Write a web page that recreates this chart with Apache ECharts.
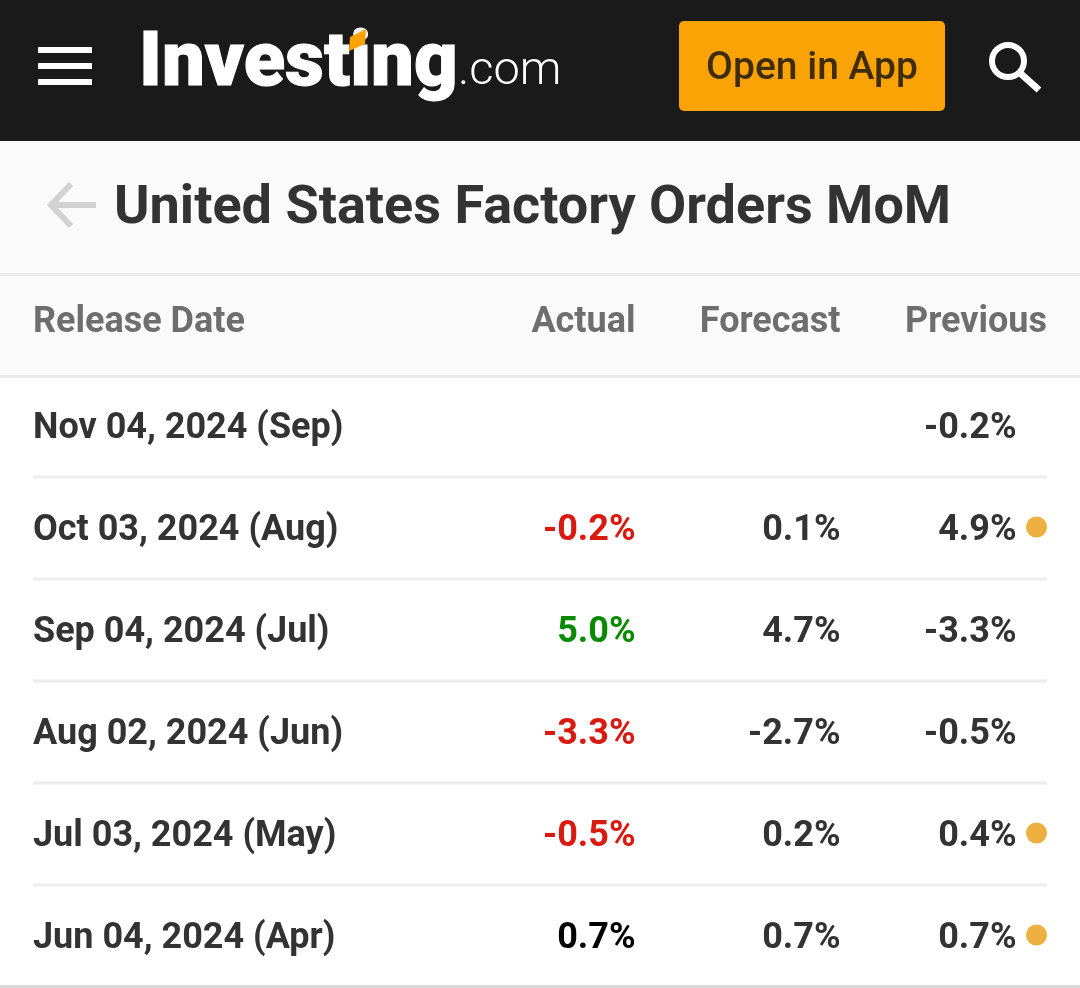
<!DOCTYPE html>
<html>
<head>
<meta charset="utf-8">
<style>
  html, body { margin: 0; padding: 0; background: #fff; }
  #chart { width: 1080px; height: 988px; }
</style>
<script src="https://cdn.jsdelivr.net/npm/echarts@6/dist/echarts.min.js"></script>
</head>
<body>
<div id="chart"></div>
<script>
const title = "United States Factory Orders MoM";
const columns = ["Release Date", "Actual", "Forecast", "Previous"];
const releases = [
  "Nov 04, 2024 (Sep)",
  "Oct 03, 2024 (Aug)",
  "Sep 04, 2024 (Jul)",
  "Aug 02, 2024 (Jun)",
  "Jul 03, 2024 (May)",
  "Jun 04, 2024 (Apr)",
];
const actual = [null, -0.2, 5.0, -3.3, -0.5, 0.7];
const forecast = [null, 0.1, 4.7, -2.7, 0.2, 0.7];
const previous = [-0.2, 4.9, -3.3, -0.5, 0.4, 0.7];
const revised = [false, true, false, false, true, true];

const FONT = "Roboto, sans-serif";
const CELL_FONT = "bold 36px " + FONT;
const TEXT = "#333333";
const GREY = "#6e6e6e";

function fmt(v) {
  return v === null ? "" : v.toFixed(1) + "%";
}

function actualColor(i) {
  if (actual[i] === null || forecast[i] === null) return "#111";
  if (actual[i] < forecast[i]) return "#d91a10";
  if (actual[i] > forecast[i]) return "#0a8a00";
  return "#000";
}

function cell(x, y, text, fill, align) {
  return {
    type: "text",
    style: { x: x, y: y + 3, text: text, font: CELL_FONT, fill: fill, textAlign: align, textVerticalAlign: "middle" },
  };
}

function headerCell(x, text, align) {
  return {
    type: "text",
    style: { x: x, y: 323, text: text, font: CELL_FONT, fill: GREY, textAlign: align, textVerticalAlign: "middle" },
  };
}

function renderRow(params, api) {
  const i = api.value(0);
  const y = api.coord([0, i])[1];
  const children = [
    cell(33, y, releases[i], TEXT, "left"),
    cell(635.5, y, fmt(actual[i]), actualColor(i), "right"),
    cell(840.5, y, fmt(forecast[i]), TEXT, "right"),
    cell(1016.5, y, fmt(previous[i]), TEXT, "right"),
  ];
  if (revised[i]) {
    children.push({ type: "circle", shape: { cx: 1036.5, cy: y - 1, r: 10.5 }, style: { fill: "#edb040" } });
  }
  if (i < releases.length - 1) {
    children.push({ type: "line", shape: { x1: 33, y1: y + 51, x2: 1047, y2: y + 51 }, style: { stroke: "#ececec", lineWidth: 3 } });
  }
  return { type: "group", children: children };
}

const chart = echarts.init(document.getElementById("chart"), null, { renderer: "canvas" });

chart.setOption({
  animation: false,
  backgroundColor: "#fff",
  grid: { left: 0, right: 0, top: 375, height: 612 },
  xAxis: { type: "value", min: 0, max: 1, show: false },
  yAxis: { type: "category", inverse: true, data: releases, show: false },
  graphic: [
    // top bar
    { type: "rect", shape: { x: 0, y: 0, width: 1080, height: 141 }, style: { fill: "#1a1a1a" } },
    { type: "rect", shape: { x: 38, y: 47, width: 54, height: 6 }, style: { fill: "#fff" } },
    { type: "rect", shape: { x: 38, y: 63, width: 54, height: 6 }, style: { fill: "#fff" } },
    { type: "rect", shape: { x: 38, y: 79, width: 54, height: 6 }, style: { fill: "#fff" } },
    { type: "text", style: { x: 139, y: 66, text: "Investing", font: "900 76px " + FONT, fill: "#fff", stroke: "#fff", lineWidth: 1, textVerticalAlign: "middle" } },
    { type: "polygon", shape: { points: [[350, 37], [366, 29], [365, 44], [349, 51]] }, style: { fill: "#f9a200" } },
    { type: "text", style: { x: 458, y: 72, text: ".com", font: "300 47px " + FONT, fill: "#fff", textVerticalAlign: "middle" } },
    { type: "rect", shape: { x: 679, y: 21, width: 266, height: 90, r: 5 }, style: { fill: "#f9a306" } },
    { type: "text", style: { x: 812, y: 69, text: "Open in App", font: "500 39px " + FONT, fill: "#3f2d0a", textAlign: "center", textVerticalAlign: "middle" } },
    { type: "circle", shape: { cx: 1008, cy: 61, r: 16 }, style: { fill: "none", stroke: "#fff", lineWidth: 6 } },
    { type: "line", shape: { x1: 1020, y1: 73, x2: 1039, y2: 90 }, style: { stroke: "#fff", lineWidth: 7 } },
    // title bar
    { type: "rect", shape: { x: 0, y: 141, width: 1080, height: 133 }, style: { fill: "#fafafa" } },
    { type: "polyline", shape: { points: [[71, 184], [51, 205], [71, 226]] }, style: { fill: "none", stroke: "#d2d2d2", lineWidth: 6 } },
    { type: "line", shape: { x1: 54, y1: 205, x2: 96, y2: 205 }, style: { stroke: "#d2d2d2", lineWidth: 6 } },
    { type: "text", style: { x: 114, y: 209, text: title, font: "bold 54px " + FONT, fill: TEXT, textVerticalAlign: "middle" } },
    { type: "rect", shape: { x: 0, y: 273, width: 1080, height: 3 }, style: { fill: "#ebebeb" } },
    // column header
    { type: "rect", shape: { x: 0, y: 276, width: 1080, height: 100 }, style: { fill: "#fafafa" } },
    { type: "rect", shape: { x: 0, y: 375, width: 1080, height: 3 }, style: { fill: "#ebebeb" } },
    headerCell(33, columns[0], "left"),
    headerCell(635.5, columns[1], "right"),
    headerCell(840.5, columns[2], "right"),
    headerCell(1047, columns[3], "right"),
    // bottom edge
    { type: "rect", shape: { x: 0, y: 985, width: 1080, height: 3 }, style: { fill: "#d9d9d9" } },
  ],
  series: [
    {
      type: "custom",
      coordinateSystem: "cartesian2d",
      encode: { x: 1, y: 0 },
      data: releases.map((r, i) => [i, 0]),
      renderItem: renderRow,
    },
  ],
});
</script>
</body>
</html>
